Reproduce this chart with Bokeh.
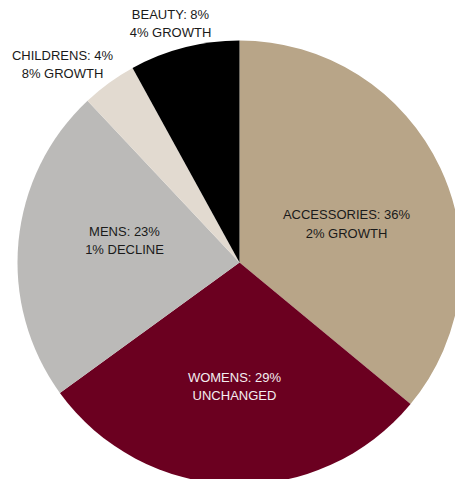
import math
from bokeh.plotting import figure
from bokeh.models import Range1d, ColumnDataSource
from bokeh.core.properties import value
from bokeh.embed import file_html
from bokeh.resources import INLINE

# ---- data ----
categories = ["ACCESSORIES", "WOMENS", "MENS", "CHILDRENS", "BEAUTY"]
shares = [36, 29, 23, 4, 8]
changes = ["2% GROWTH", "UNCHANGED", "1% DECLINE", "8% GROWTH", "4% GROWTH"]

# ---- styles / layout ----
colors = ["#B8A588", "#6B0020", "#BBBAB8", "#E2DAD0", "#000000"]
text_colors = ["#1a1a1a", "#f4eef0", "#1a1a1a", "#1a1a1a", "#1a1a1a"]
# label centres in screen pixels (x, y from top)
label_pos = [(346, 223.5), (234, 386), (124, 240), (62, 64), (170, 23)]

W, H = 455, 479
cx, cy_screen, R = 239, 262, 222
cy = H - cy_screen

total = sum(shares)
starts, ends = [], []
acc = 0.0
for s in shares:
    th0 = acc / total * 2 * math.pi
    acc += s
    th1 = acc / total * 2 * math.pi
    # clockwise from 12 o'clock -> math angles
    starts.append(math.pi / 2 - th1)
    ends.append(math.pi / 2 - th0)

src = ColumnDataSource(dict(start=starts, end=ends, color=colors))

p = figure(width=W, height=H, output_backend="svg", toolbar_location=None,
           x_range=Range1d(0, W), y_range=Range1d(0, H),
           min_border=0, outline_line_color=None)
p.axis.visible = False
p.grid.visible = False
p.background_fill_color = "white"

p.wedge(x=cx, y=cy, radius=R, start_angle="start", end_angle="end",
        fill_color="color", line_color=None, source=src)

labels = [f"{c}: {s}%\n{g}" for c, s, g in zip(categories, shares, changes)]
lsrc = ColumnDataSource(dict(
    x=[lp[0] for lp in label_pos],
    y=[H - lp[1] for lp in label_pos],
    text=labels, tc=text_colors))
p.text(x="x", y="y", text="text", source=lsrc, text_color="tc",
       text_font=value("Liberation Sans"), text_font_size="13px",
       text_align="center", text_baseline="middle", text_line_height=1.25)

open("out.html", "w").write(file_html(p, INLINE))
